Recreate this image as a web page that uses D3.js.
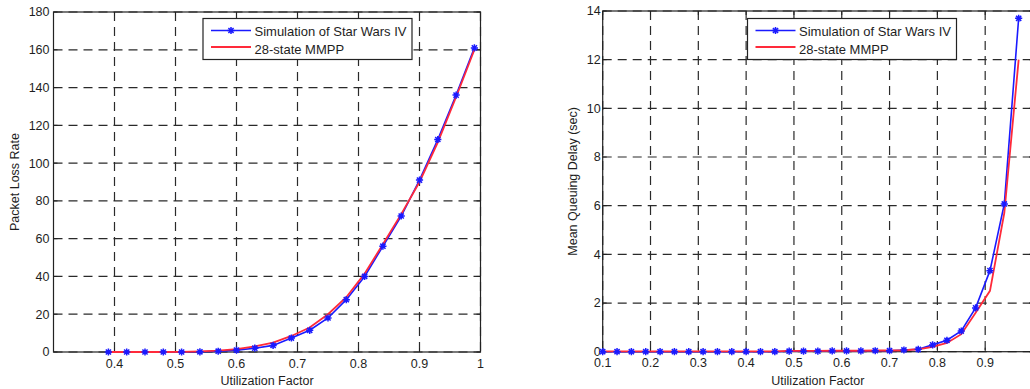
<!DOCTYPE html>
<html>
<head>
<meta charset="utf-8">
<script src="https://cdn.jsdelivr.net/npm/d3@7"></script>
<style>
  body { margin: 0; background: #fff; }
  svg { display: block; font-family: "Liberation Sans", Arial, sans-serif; }
  .tick-label { font-size: 12.5px; fill: #1e1e1e; }
  .axis-title { font-size: 12.5px; fill: #1e1e1e; }
  .legend-text { font-size: 13px; fill: #1e1e1e; }
</style>
</head>
<body>
<div id="chart"></div>
<script>
// Data
var lossX = [0.39, 0.42, 0.45, 0.48, 0.51, 0.54, 0.57, 0.60, 0.63, 0.66, 0.69,
             0.72, 0.75, 0.78, 0.81, 0.84, 0.87, 0.90, 0.93, 0.96, 0.99];
var lossSim  = [0, 0, 0, 0, 0, 0.1, 0.4, 1, 2, 3.5, 7.4, 11.5, 18, 27.7, 40, 56, 72, 91, 112.5, 136, 161];
var lossMmpp = [0, 0, 0, 0, 0.1, 0.3, 0.7, 1.5, 3, 5, 8.5, 13, 20, 29, 41.5, 57, 73, 90, 111, 135, 160];

var delayX = [0.10, 0.13, 0.16, 0.19, 0.22, 0.25, 0.28, 0.31, 0.34, 0.37,
              0.40, 0.43, 0.46, 0.49, 0.52, 0.55, 0.58, 0.61, 0.64, 0.67,
              0.70, 0.73, 0.76, 0.79, 0.82, 0.85, 0.88, 0.91, 0.94, 0.97];
var delaySim  = [0, 0, 0, 0, 0, 0, 0, 0, 0, 0,
                 0, 0, 0, 0.02, 0.02, 0.02, 0.03, 0.03, 0.03, 0.04,
                 0.04, 0.07, 0.1, 0.28, 0.47, 0.85, 1.8, 3.33, 6.07, 13.7];
var delayMmpp = [0.01, 0.01, 0.01, 0.01, 0.01, 0.01, 0.01, 0.01, 0.01, 0.01,
                 0.01, 0.01, 0.01, 0.03, 0.03, 0.03, 0.04, 0.04, 0.04, 0.05,
                 0.05, 0.06, 0.1, 0.2, 0.36, 0.72, 1.6, 2.5, 5.7, 12];

var lossXTicks = [0.4, 0.5, 0.6, 0.7, 0.8, 0.9, 1];
var lossYTicks = [0, 20, 40, 60, 80, 100, 120, 140, 160, 180];
var delayXTicks = [0.1, 0.2, 0.3, 0.4, 0.5, 0.6, 0.7, 0.8, 0.9, 1];
var delayYTicks = [0, 2, 4, 6, 8, 10, 12, 14];

var legendNames = ["Simulation of Star Wars IV", "28-state MMPP"];

var W = 1030, H = 389;
var svg = d3.select("#chart").append("svg")
    .attr("width", W)
    .attr("height", H);

var blue = "#1a1aff", red = "#ff2a3a";

// asterisk marker (matlab '*')
function starPath(r) {
  var d = r * 0.72;
  return "M0," + (-r) + "V" + r + "M" + (-r) + ",0H" + r +
         "M" + (-d) + "," + (-d) + "L" + d + "," + d +
         "M" + (-d) + "," + d + "L" + d + "," + (-d);
}

function drawPanel(cfg) {
  var x = d3.scaleLinear().domain(cfg.xDomain).range([cfg.left, cfg.right]);
  var y = d3.scaleLinear().domain(cfg.yDomain).range([cfg.bottom, cfg.top]);
  var g = svg.append("g");

  // dashed grid
  g.selectAll(".vgrid").data(cfg.xTicks).enter().append("line")
    .attr("x1", function(d) { return x(d); })
    .attr("x2", function(d) { return x(d); })
    .attr("y1", cfg.top).attr("y2", cfg.bottom)
    .attr("stroke", "#2a2a2a").attr("stroke-width", 1.2)
    .attr("stroke-dasharray", "9,6");
  g.selectAll(".hgrid").data(cfg.yTicks).enter().append("line")
    .attr("y1", function(d) { return y(d); })
    .attr("y2", function(d) { return y(d); })
    .attr("x1", cfg.left).attr("x2", cfg.right)
    .attr("stroke", "#2a2a2a").attr("stroke-width", 1.2)
    .attr("stroke-dasharray", "9,6");

  // inward ticks on all four sides
  var tl = 4;
  cfg.xTicks.forEach(function(t) {
    g.append("line").attr("x1", x(t)).attr("x2", x(t))
      .attr("y1", cfg.bottom).attr("y2", cfg.bottom - tl).attr("stroke", "#222");
    g.append("line").attr("x1", x(t)).attr("x2", x(t))
      .attr("y1", cfg.top).attr("y2", cfg.top + tl).attr("stroke", "#222");
  });
  cfg.yTicks.forEach(function(t) {
    g.append("line").attr("y1", y(t)).attr("y2", y(t))
      .attr("x1", cfg.left).attr("x2", cfg.left + tl).attr("stroke", "#222");
    g.append("line").attr("y1", y(t)).attr("y2", y(t))
      .attr("x1", cfg.right).attr("x2", cfg.right - tl).attr("stroke", "#222");
  });

  // box
  g.append("rect")
    .attr("x", cfg.left).attr("y", cfg.top)
    .attr("width", cfg.right - cfg.left).attr("height", cfg.bottom - cfg.top)
    .attr("fill", "none").attr("stroke", "#222").attr("stroke-width", 1.2);

  // tick labels (only those that land inside the picture)
  var xLabelTicks = cfg.xTicks.filter(function(d) { return x(d) < W - 4; });
  g.selectAll(".xl").data(xLabelTicks).enter().append("text")
    .attr("class", "tick-label")
    .attr("x", function(d) { return x(d); })
    .attr("y", cfg.bottom + 15.5)
    .attr("text-anchor", "middle")
    .text(function(d) { return String(+d.toFixed(1)); });
  g.selectAll(".yl").data(cfg.yTicks).enter().append("text")
    .attr("class", "tick-label")
    .attr("x", cfg.left - cfg.yLabelPad)
    .attr("y", function(d) { return y(d) + 4.4; })
    .attr("text-anchor", "end")
    .text(function(d) { return d; });

  // axis titles
  g.append("text").attr("class", "axis-title")
    .attr("x", (cfg.left + cfg.right) / 2).attr("y", 384.5)
    .attr("text-anchor", "middle")
    .text("Utilization Factor");
  g.append("text").attr("class", "axis-title")
    .attr("transform", "translate(" + cfg.yTitleX + "," + ((cfg.top + cfg.bottom) / 2) + ") rotate(-90)")
    .attr("text-anchor", "middle")
    .text(cfg.yTitle);

  // series
  var line = d3.line()
    .x(function(d) { return x(d[0]); })
    .y(function(d) { return y(d[1]); });
  var simPts = cfg.xs.map(function(v, i) { return [v, cfg.sim[i]]; });
  var modPts = cfg.xs.map(function(v, i) { return [v, cfg.mod[i]]; });

  g.append("path").datum(simPts).attr("d", line)
    .attr("fill", "none").attr("stroke", blue).attr("stroke-width", 1.6);
  g.append("path").datum(modPts).attr("d", line)
    .attr("fill", "none").attr("stroke", red).attr("stroke-width", 1.8);
  g.selectAll(".mk").data(simPts).enter().append("path")
    .attr("transform", function(d) { return "translate(" + x(d[0]) + "," + y(d[1]) + ")"; })
    .attr("d", starPath(3.6))
    .attr("fill", "none").attr("stroke", blue).attr("stroke-width", 1.5);

  // legend
  var lg = g.append("g").attr("transform", "translate(" + cfg.legendX + ",18.5)");
  lg.append("rect").attr("width", 209).attr("height", 41)
    .attr("fill", "#fff").attr("stroke", "#222").attr("stroke-width", 1.2);
  lg.append("line").attr("x1", 8).attr("x2", 48).attr("y1", 12).attr("y2", 12)
    .attr("stroke", blue).attr("stroke-width", 1.6);
  lg.append("path").attr("transform", "translate(28,12)").attr("d", starPath(3.6))
    .attr("fill", "none").attr("stroke", blue).attr("stroke-width", 1.5);
  lg.append("line").attr("x1", 8).attr("x2", 48).attr("y1", 28.5).attr("y2", 28.5)
    .attr("stroke", red).attr("stroke-width", 1.8);
  lg.selectAll(".lt").data(legendNames).enter().append("text")
    .attr("class", "legend-text")
    .attr("x", 51.5)
    .attr("y", function(d, i) { return 17.3 + i * 18.3; })
    .text(function(d) { return d; });
}

drawPanel({
  left: 53.5, right: 480.5, top: 12, bottom: 352,
  xDomain: [0.3, 1], yDomain: [0, 180],
  xTicks: lossXTicks, yTicks: lossYTicks,
  xs: lossX, sim: lossSim, mod: lossMmpp,
  yTitle: "Packet Loss Rate", yTitleX: 19, yLabelPad: 4,
  legendX: 203
});

drawPanel({
  left: 602.7, right: 1033, top: 11, bottom: 351.7,
  xDomain: [0.1, 1], yDomain: [0, 14],
  xTicks: delayXTicks, yTicks: delayYTicks,
  xs: delayX, sim: delaySim, mod: delayMmpp,
  yTitle: "Mean Queuing Delay (sec)", yTitleX: 577, yLabelPad: 2,
  legendX: 747.5
});
</script>
</body>
</html>
